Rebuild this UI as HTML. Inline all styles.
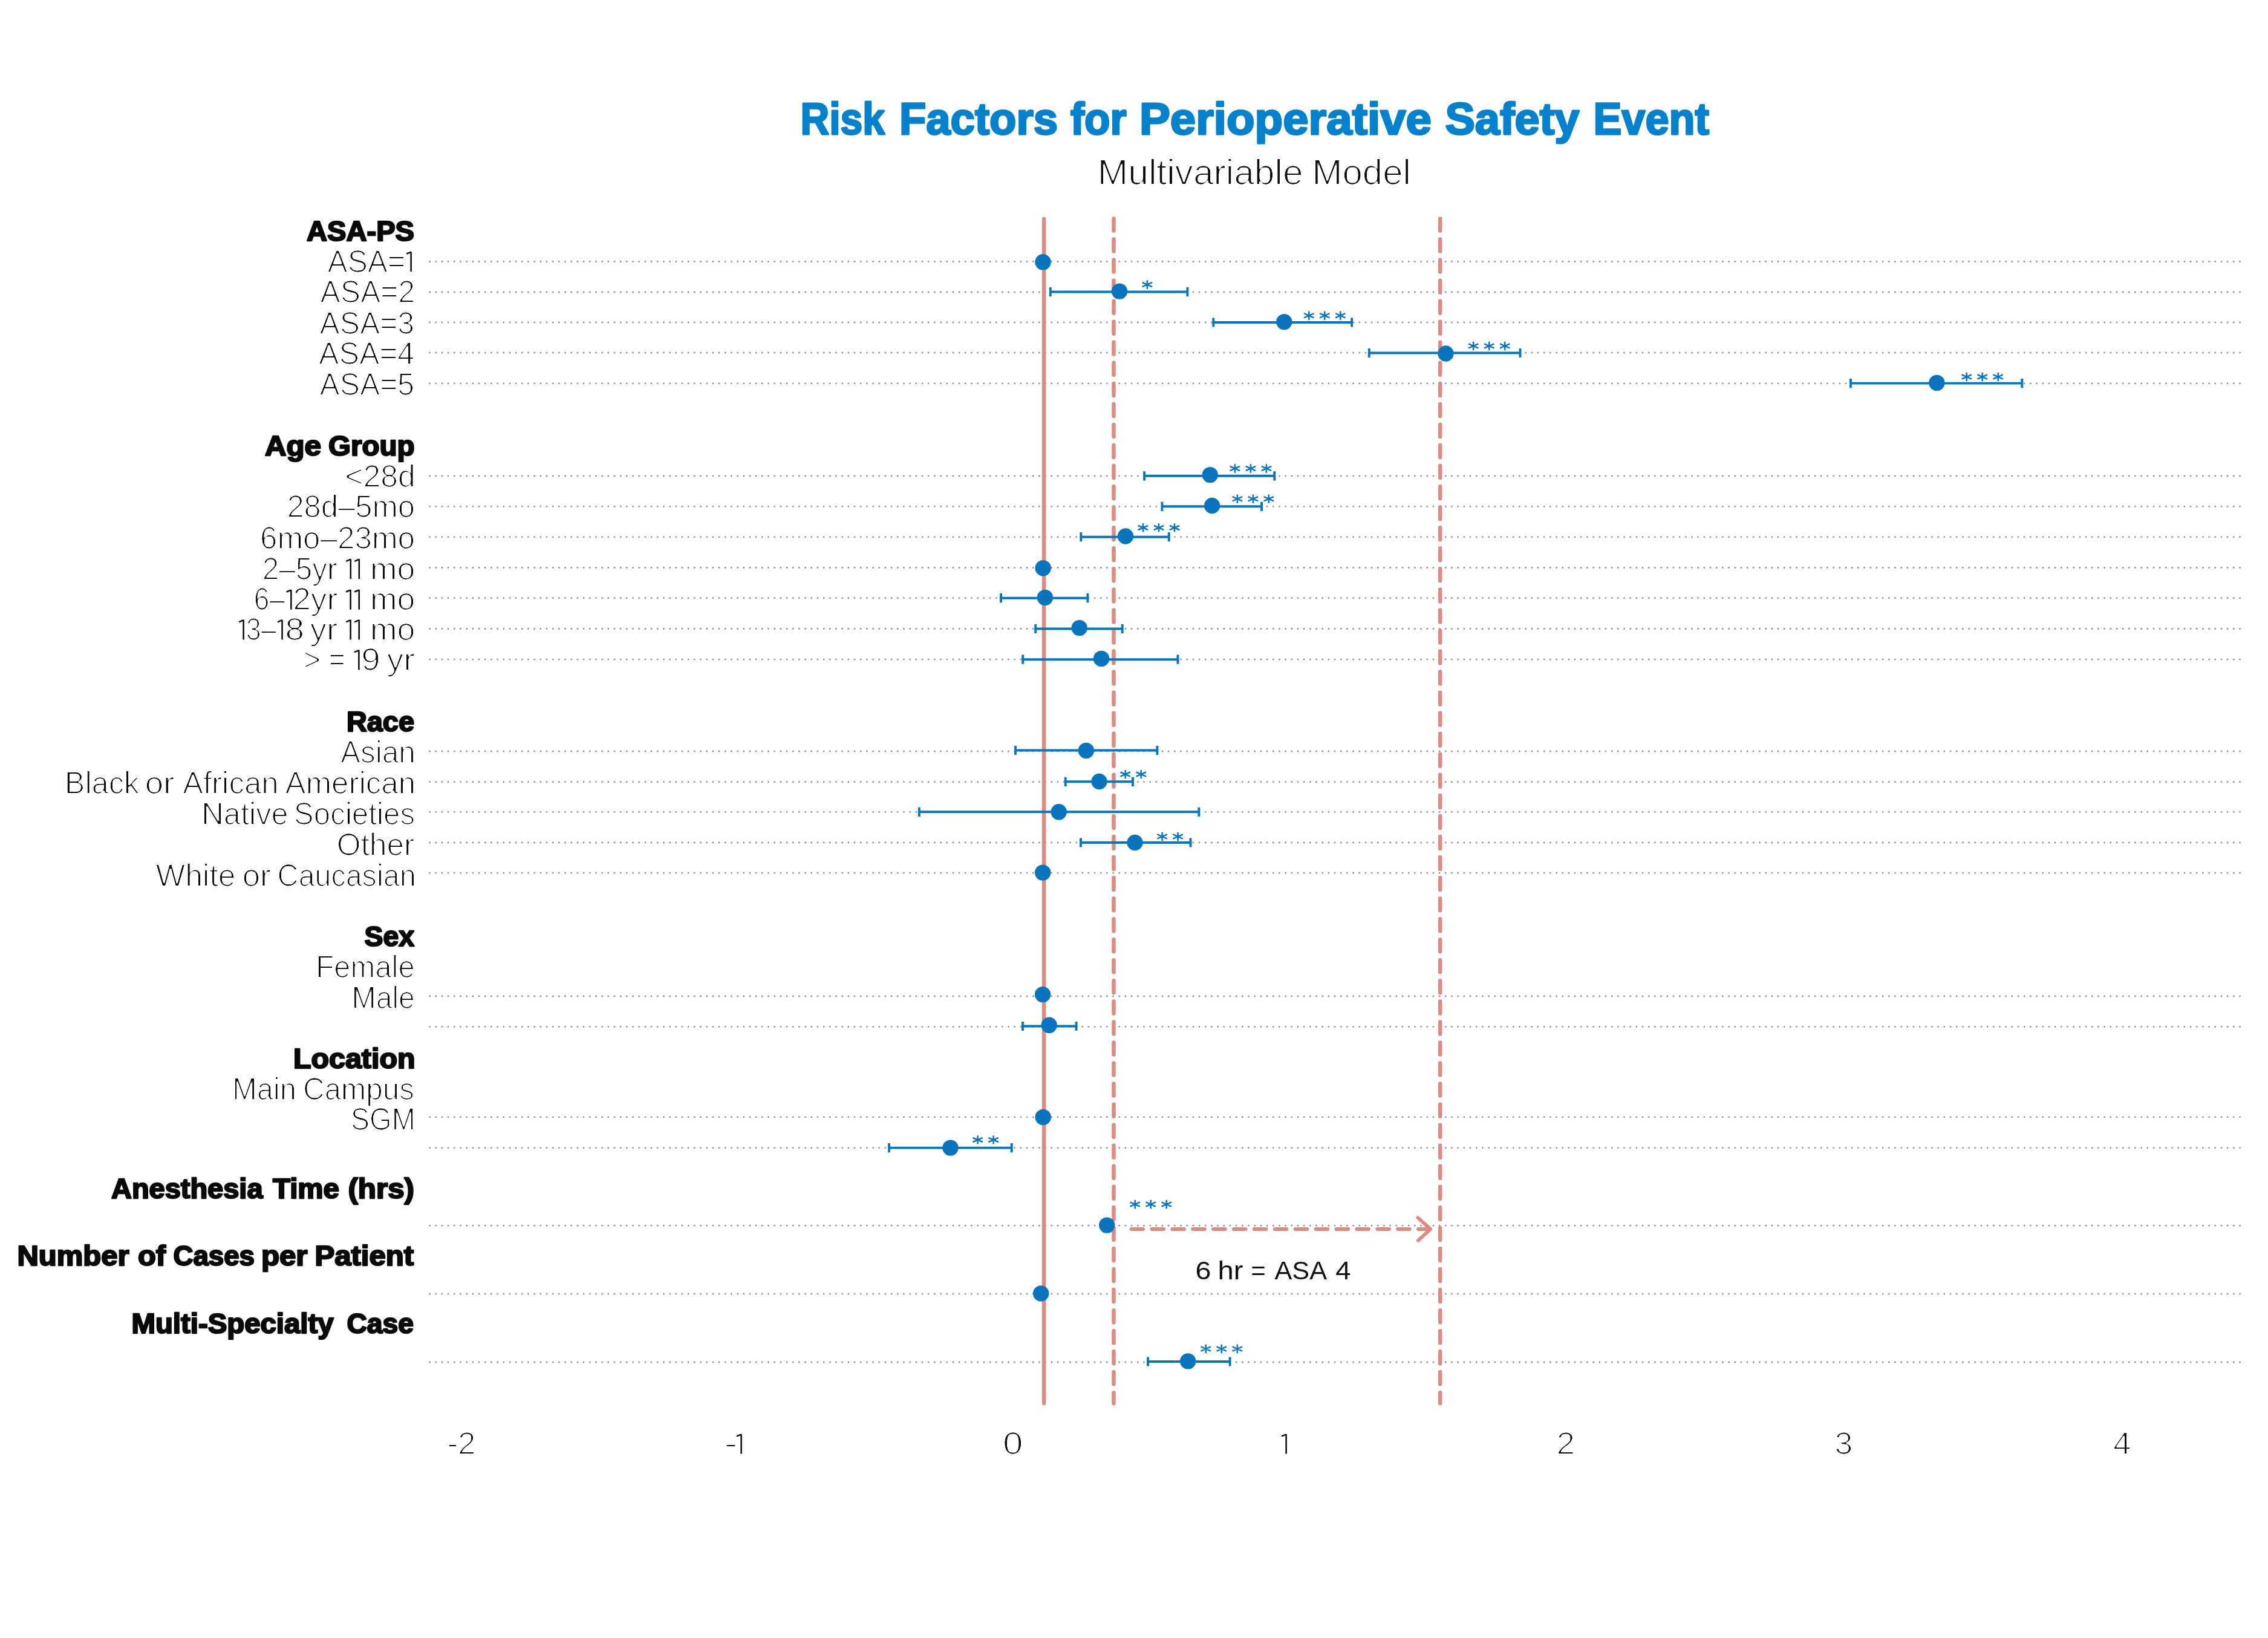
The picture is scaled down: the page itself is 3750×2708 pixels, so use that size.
<!DOCTYPE html><html><head><meta charset="utf-8"><title>Risk Factors for Perioperative Safety Event</title><style>html,body{margin:0;padding:0;background:#fff;overflow:hidden;}svg{display:block;}</style></head><body>
<svg width="3750" height="2708" viewBox="0 0 3750 2708">
<defs><filter id="er" x="-5%" y="-20%" width="110%" height="140%"><feMorphology operator="erode" radius="1"/><feComponentTransfer><feFuncA type="linear" slope="1.6" intercept="0"/></feComponentTransfer></filter><filter id="gs" x="-2%" y="-20%" width="104%" height="140%"><feOffset dx="0" dy="0"/></filter></defs>
<rect width="3750" height="2708" fill="#fff"/>
<g stroke="#8c8c8c" stroke-width="2.8" stroke-linecap="round" stroke-dasharray="0 10.18" fill="none">
<line x1="710.6" y1="432.4" x2="3704.2" y2="432.4"/>
<line x1="710.6" y1="483" x2="3704.2" y2="483"/>
<line x1="710.6" y1="532.9" x2="3704.2" y2="532.9"/>
<line x1="710.6" y1="583.2" x2="3704.2" y2="583.2"/>
<line x1="710.6" y1="633.8" x2="3704.2" y2="633.8"/>
<line x1="710.6" y1="786.8" x2="3704.2" y2="786.8"/>
<line x1="710.6" y1="837.3" x2="3704.2" y2="837.3"/>
<line x1="710.6" y1="887.8" x2="3704.2" y2="887.8"/>
<line x1="710.6" y1="938.5" x2="3704.2" y2="938.5"/>
<line x1="710.6" y1="988.7" x2="3704.2" y2="988.7"/>
<line x1="710.6" y1="1039.5" x2="3704.2" y2="1039.5"/>
<line x1="710.6" y1="1090.2" x2="3704.2" y2="1090.2"/>
<line x1="710.6" y1="1242" x2="3704.2" y2="1242"/>
<line x1="710.6" y1="1292.7" x2="3704.2" y2="1292.7"/>
<line x1="710.6" y1="1342.3" x2="3704.2" y2="1342.3"/>
<line x1="710.6" y1="1393" x2="3704.2" y2="1393"/>
<line x1="710.6" y1="1443.2" x2="3704.2" y2="1443.2"/>
<line x1="710.6" y1="1647" x2="3704.2" y2="1647"/>
<line x1="710.6" y1="1697.4" x2="3704.2" y2="1697.4"/>
<line x1="710.6" y1="1846.9" x2="3704.2" y2="1846.9"/>
<line x1="710.6" y1="1897.6" x2="3704.2" y2="1897.6"/>
<line x1="710.6" y1="2026.2" x2="3704.2" y2="2026.2"/>
<line x1="710.6" y1="2139.1" x2="3704.2" y2="2139.1"/>
<line x1="710.6" y1="2252" x2="3704.2" y2="2252"/>
</g>
<g stroke="#dc8b81" stroke-width="6.5" stroke-linecap="round" fill="none">
<line x1="1726.1" y1="362" x2="1726.1" y2="2320"/>
<line x1="1841.5" y1="361.5" x2="1841.5" y2="2320" stroke-dasharray="20 14.05"/>
<line x1="2381.2" y1="361.5" x2="2381.2" y2="2320" stroke-dasharray="20 14.05"/>
</g>
<g stroke="#dc8b81" stroke-width="5.8" stroke-linecap="round" stroke-linejoin="round" fill="none">
<line x1="1870.4" y1="2032" x2="2365" y2="2032" stroke-dasharray="19.8 14.1"/>
<polyline points="2344.3,2013.2 2365.2,2032 2344.8,2050.8"/>
</g>
<path d="M1736.80,482.50L1963.40,482.50M1736.80,474.90L1736.80,490.10M1963.40,474.90L1963.40,490.10M2006.30,533.00L2235.20,533.00M2006.30,525.40L2006.30,540.60M2235.20,525.40L2235.20,540.60M2263.80,583.50L2513.50,583.50M2263.80,575.90L2263.80,591.10M2513.50,575.90L2513.50,591.10M3059.90,633.60L3343.30,633.60M3059.90,626.00L3059.90,641.20M3343.30,626.00L3343.30,641.20M1892.10,786.80L2107.30,786.80M1892.10,779.20L1892.10,794.40M2107.30,779.20L2107.30,794.40M1921.40,837.30L2086.10,837.30M1921.40,829.70L1921.40,844.90M2086.10,829.70L2086.10,844.90M1787.30,887.70L1932.80,887.70M1787.30,880.10L1787.30,895.30M1932.80,880.10L1932.80,895.30M1655.00,988.70L1798.40,988.70M1655.00,981.10L1655.00,996.30M1798.40,981.10L1798.40,996.30M1712.20,1039.50L1855.70,1039.50M1712.20,1031.90L1712.20,1047.10M1855.70,1031.90L1855.70,1047.10M1691.20,1090.20L1947.50,1090.20M1691.20,1082.60L1691.20,1097.80M1947.50,1082.60L1947.50,1097.80M1679.00,1240.50L1913.40,1240.50M1679.00,1232.90L1679.00,1248.10M1913.40,1232.90L1913.40,1248.10M1761.70,1292.30L1873.00,1292.30M1761.70,1284.70L1761.70,1299.90M1873.00,1284.70L1873.00,1299.90M1519.80,1342.30L1982.40,1342.30M1519.80,1334.70L1519.80,1349.90M1982.40,1334.70L1982.40,1349.90M1787.00,1393.00L1968.50,1393.00M1787.00,1385.40L1787.00,1400.60M1968.50,1385.40L1968.50,1400.60M1691.00,1696.50L1779.60,1696.50M1691.00,1688.90L1691.00,1704.10M1779.60,1688.90L1779.60,1704.10M1470.10,1897.60L1672.70,1897.60M1470.10,1890.00L1470.10,1905.20M1672.70,1890.00L1672.70,1905.20M1898.00,2251.00L2033.60,2251.00M1898.00,2243.40L1898.00,2258.60M2033.60,2243.40L2033.60,2258.60" stroke="#0874bc" stroke-width="3.9" fill="none"/>
<path d="M1896.80,463.30L1896.80,477.70M1888.60,466.90L1905.00,474.10M1888.60,474.10L1905.00,466.90M2164.30,514.60L2164.30,529.00M2156.10,518.20L2172.50,525.40M2156.10,525.40L2172.50,518.20M2190.30,514.60L2190.30,529.00M2182.10,518.20L2198.50,525.40M2182.10,525.40L2198.50,518.20M2216.30,514.60L2216.30,529.00M2208.10,518.20L2224.50,525.40M2208.10,525.40L2224.50,518.20M2436.20,564.80L2436.20,579.20M2428.00,568.40L2444.40,575.60M2428.00,575.60L2444.40,568.40M2462.20,564.80L2462.20,579.20M2454.00,568.40L2470.40,575.60M2454.00,575.60L2470.40,568.40M2488.20,564.80L2488.20,579.20M2480.00,568.40L2496.40,575.60M2480.00,575.60L2496.40,568.40M3251.70,615.80L3251.70,630.20M3243.50,619.40L3259.90,626.60M3243.50,626.60L3259.90,619.40M3277.70,615.80L3277.70,630.20M3269.50,619.40L3285.90,626.60M3269.50,626.60L3285.90,619.40M3303.70,615.80L3303.70,630.20M3295.50,619.40L3311.90,626.60M3295.50,626.60L3311.90,619.40M2041.90,767.30L2041.90,781.70M2033.70,770.90L2050.10,778.10M2033.70,778.10L2050.10,770.90M2067.90,767.30L2067.90,781.70M2059.70,770.90L2076.10,778.10M2059.70,778.10L2076.10,770.90M2093.90,767.30L2093.90,781.70M2085.70,770.90L2102.10,778.10M2085.70,778.10L2102.10,770.90M2045.90,817.50L2045.90,831.90M2037.70,821.10L2054.10,828.30M2037.70,828.30L2054.10,821.10M2071.90,817.50L2071.90,831.90M2063.70,821.10L2080.10,828.30M2063.70,828.30L2080.10,821.10M2097.90,817.50L2097.90,831.90M2089.70,821.10L2106.10,828.30M2089.70,828.30L2106.10,821.10M1890.00,865.20L1890.00,879.60M1881.80,868.80L1898.20,876.00M1881.80,876.00L1898.20,868.80M1916.00,865.20L1916.00,879.60M1907.80,868.80L1924.20,876.00M1907.80,876.00L1924.20,868.80M1942.00,865.20L1942.00,879.60M1933.80,868.80L1950.20,876.00M1933.80,876.00L1950.20,868.80M1860.70,1272.90L1860.70,1287.30M1852.50,1276.50L1868.90,1283.70M1852.50,1283.70L1868.90,1276.50M1886.70,1272.90L1886.70,1287.30M1878.50,1276.50L1894.90,1283.70M1878.50,1283.70L1894.90,1276.50M1921.60,1375.80L1921.60,1390.20M1913.40,1379.40L1929.80,1386.60M1913.40,1386.60L1929.80,1379.40M1947.60,1375.80L1947.60,1390.20M1939.40,1379.40L1955.80,1386.60M1939.40,1386.60L1955.80,1379.40M1616.60,1877.20L1616.60,1891.60M1608.40,1880.80L1624.80,1888.00M1608.40,1888.00L1624.80,1880.80M1642.60,1877.20L1642.60,1891.60M1634.40,1880.80L1650.80,1888.00M1634.40,1888.00L1650.80,1880.80M1876.70,1983.80L1876.70,1998.20M1868.50,1987.40L1884.90,1994.60M1868.50,1994.60L1884.90,1987.40M1902.70,1983.80L1902.70,1998.20M1894.50,1987.40L1910.90,1994.60M1894.50,1994.60L1910.90,1987.40M1928.70,1983.80L1928.70,1998.20M1920.50,1987.40L1936.90,1994.60M1920.50,1994.60L1936.90,1987.40M1993.80,2222.80L1993.80,2237.20M1985.60,2226.40L2002.00,2233.60M1985.60,2233.60L2002.00,2226.40M2019.80,2222.80L2019.80,2237.20M2011.60,2226.40L2028.00,2233.60M2011.60,2233.60L2028.00,2226.40M2045.80,2222.80L2045.80,2237.20M2037.60,2226.40L2054.00,2233.60M2037.60,2233.60L2054.00,2226.40" stroke="#0874bc" stroke-width="2.5" fill="none"/>
<g fill="#0874bc">
<circle cx="1724.5" cy="433.3" r="13.2"/>
<circle cx="1851" cy="481.6" r="13.2"/>
<circle cx="2123.3" cy="532.1" r="13.2"/>
<circle cx="2390.5" cy="584.5" r="13.2"/>
<circle cx="3202.4" cy="632.9" r="13.2"/>
<circle cx="2000.8" cy="785.1" r="13.2"/>
<circle cx="2004.1" cy="836" r="13.2"/>
<circle cx="1861" cy="886.5" r="13.2"/>
<circle cx="1724.7" cy="939.2" r="13.2"/>
<circle cx="1727.9" cy="987.9" r="13.2"/>
<circle cx="1784.7" cy="1038.1" r="13.2"/>
<circle cx="1821" cy="1088.9" r="13.2"/>
<circle cx="1795.9" cy="1240.9" r="13.2"/>
<circle cx="1817.5" cy="1292" r="13.2"/>
<circle cx="1750.7" cy="1342.3" r="13.2"/>
<circle cx="1876.5" cy="1393" r="13.2"/>
<circle cx="1724.2" cy="1442.6" r="13.2"/>
<circle cx="1724.1" cy="1644.1" r="13.2"/>
<circle cx="1734.7" cy="1694.8" r="13.2"/>
<circle cx="1724.7" cy="1846.9" r="13.2"/>
<circle cx="1571.5" cy="1897.6" r="13.2"/>
<circle cx="1830.2" cy="2025.6" r="13.2"/>
<circle cx="1721.2" cy="2138.4" r="13.2"/>
<circle cx="1964.2" cy="2250.4" r="13.2"/>
</g>
<g font-family='"Liberation Sans", sans-serif'>
<g filter="url(#er)">
<text x="541.43" y="449.6" font-size="51.2" font-weight="normal" fill="#0a0a0a" textLength="128.69" lengthAdjust="spacingAndGlyphs">ASA=</text>
<text x="529.44" y="500.4" font-size="51.2" font-weight="normal" fill="#0a0a0a" textLength="156.66" lengthAdjust="spacingAndGlyphs">ASA=2</text>
<text x="528.45" y="551.5" font-size="51.2" font-weight="normal" fill="#0a0a0a" textLength="156.65" lengthAdjust="spacingAndGlyphs">ASA=3</text>
<text x="526.96" y="602.4" font-size="51.2" font-weight="normal" fill="#0a0a0a" textLength="158.11" lengthAdjust="spacingAndGlyphs">ASA=4</text>
<text x="528.45" y="653.0" font-size="51.2" font-weight="normal" fill="#0a0a0a" textLength="156.65" lengthAdjust="spacingAndGlyphs">ASA=5</text>
<text x="570.25" y="804.9" font-size="51.2" font-weight="normal" fill="#0a0a0a" textLength="116.56" lengthAdjust="spacingAndGlyphs">&lt;28d</text>
<text x="474.40" y="855.3" font-size="51.2" font-weight="normal" fill="#0a0a0a" textLength="211.70" lengthAdjust="spacingAndGlyphs">28d–5mo</text>
<text x="429.91" y="906.5" font-size="51.2" font-weight="normal" fill="#0a0a0a" textLength="256.18" lengthAdjust="spacingAndGlyphs">6mo–23mo</text>
<text x="433.84" y="957.7" font-size="51.2" font-weight="normal" fill="#0a0a0a" textLength="123.76" lengthAdjust="spacingAndGlyphs">2–5yr</text>
<text x="611.98" y="957.7" font-size="51.2" font-weight="normal" fill="#0a0a0a" textLength="74.42" lengthAdjust="spacingAndGlyphs">mo</text>
<text x="419.74" y="1008.4" font-size="51.2" font-weight="normal" fill="#0a0a0a" textLength="51.39" lengthAdjust="spacingAndGlyphs">6–</text>
<text x="484.25" y="1008.4" font-size="51.2" font-weight="normal" fill="#0a0a0a" textLength="73.87" lengthAdjust="spacingAndGlyphs">2yr</text>
<text x="611.98" y="1008.4" font-size="51.2" font-weight="normal" fill="#0a0a0a" textLength="74.42" lengthAdjust="spacingAndGlyphs">mo</text>
<text x="406.73" y="1058.2" font-size="51.2" font-weight="normal" fill="#0a0a0a" textLength="49.88" lengthAdjust="spacingAndGlyphs">3–</text>
<text x="471.55" y="1058.2" font-size="51.2" font-weight="normal" fill="#0a0a0a" textLength="31.65" lengthAdjust="spacingAndGlyphs">8</text>
<text x="512.81" y="1058.2" font-size="51.2" font-weight="normal" fill="#0a0a0a" textLength="45.33" lengthAdjust="spacingAndGlyphs">yr</text>
<text x="611.98" y="1058.2" font-size="51.2" font-weight="normal" fill="#0a0a0a" textLength="74.42" lengthAdjust="spacingAndGlyphs">mo</text>
<text x="502.13" y="1108.1" font-size="51.2" font-weight="normal" fill="#0a0a0a" textLength="27.64" lengthAdjust="spacingAndGlyphs">&gt;</text>
<text x="543.80" y="1108.1" font-size="51.2" font-weight="normal" fill="#0a0a0a" textLength="26.96" lengthAdjust="spacingAndGlyphs">=</text>
<text x="597.16" y="1108.1" font-size="51.2" font-weight="normal" fill="#0a0a0a" textLength="31.61" lengthAdjust="spacingAndGlyphs">9</text>
<text x="639.84" y="1108.1" font-size="51.2" font-weight="normal" fill="#0a0a0a" textLength="45.78" lengthAdjust="spacingAndGlyphs">yr</text>
<text x="562.89" y="1261.4" font-size="51.2" font-weight="normal" fill="#0a0a0a" textLength="123.81" lengthAdjust="spacingAndGlyphs">Asian</text>
<text x="106.71" y="1312.0" font-size="51.2" font-weight="normal" fill="#0a0a0a" textLength="123.45" lengthAdjust="spacingAndGlyphs">Black</text>
<text x="239.66" y="1312.0" font-size="51.2" font-weight="normal" fill="#0a0a0a" textLength="48.52" lengthAdjust="spacingAndGlyphs">or</text>
<text x="301.95" y="1312.0" font-size="51.2" font-weight="normal" fill="#0a0a0a" textLength="158.69" lengthAdjust="spacingAndGlyphs">African</text>
<text x="471.43" y="1312.0" font-size="51.2" font-weight="normal" fill="#0a0a0a" textLength="215.69" lengthAdjust="spacingAndGlyphs">American</text>
<text x="333.22" y="1362.6" font-size="51.2" font-weight="normal" fill="#0a0a0a" textLength="143.44" lengthAdjust="spacingAndGlyphs">Native</text>
<text x="485.85" y="1362.6" font-size="51.2" font-weight="normal" fill="#0a0a0a" textLength="200.27" lengthAdjust="spacingAndGlyphs">Societies</text>
<text x="556.87" y="1413.7" font-size="51.2" font-weight="normal" fill="#0a0a0a" textLength="128.22" lengthAdjust="spacingAndGlyphs">Other</text>
<text x="257.43" y="1464.5" font-size="51.2" font-weight="normal" fill="#0a0a0a" textLength="132.17" lengthAdjust="spacingAndGlyphs">White</text>
<text x="400.74" y="1464.5" font-size="51.2" font-weight="normal" fill="#0a0a0a" textLength="46.89" lengthAdjust="spacingAndGlyphs">or</text>
<text x="458.39" y="1464.5" font-size="51.2" font-weight="normal" fill="#0a0a0a" textLength="229.26" lengthAdjust="spacingAndGlyphs">Caucasian</text>
<text x="522.25" y="1615.5" font-size="51.2" font-weight="normal" fill="#0a0a0a" textLength="163.39" lengthAdjust="spacingAndGlyphs">Female</text>
<text x="581.61" y="1666.7" font-size="51.2" font-weight="normal" fill="#0a0a0a" textLength="104.19" lengthAdjust="spacingAndGlyphs">Male</text>
<text x="384.02" y="1818.2" font-size="51.2" font-weight="normal" fill="#0a0a0a" textLength="105.83" lengthAdjust="spacingAndGlyphs">Main</text>
<text x="500.90" y="1818.2" font-size="51.2" font-weight="normal" fill="#0a0a0a" textLength="184.18" lengthAdjust="spacingAndGlyphs">Campus</text>
<text x="579.69" y="1868.2" font-size="51.2" font-weight="normal" fill="#0a0a0a" textLength="107.17" lengthAdjust="spacingAndGlyphs">SGM</text>
<text x="1814.84" y="305.0" font-size="59.6" font-weight="normal" fill="#111" textLength="339.77" lengthAdjust="spacingAndGlyphs">Multivariable</text>
<text x="2169.61" y="305.0" font-size="59.6" font-weight="normal" fill="#111" textLength="163.17" lengthAdjust="spacingAndGlyphs">Model</text>
<text x="739.43" y="2404.3" font-size="51.9" font-weight="normal" fill="#111" textLength="47.09" lengthAdjust="spacingAndGlyphs">-2</text>
<text x="1198.04" y="2404.3" font-size="51.9" font-weight="normal" fill="#111" textLength="20.98" lengthAdjust="spacingAndGlyphs">-</text>
<text x="1658.25" y="2404.3" font-size="51.9" font-weight="normal" fill="#111" textLength="33.02" lengthAdjust="spacingAndGlyphs">0</text>
<text x="2573.57" y="2404.3" font-size="51.9" font-weight="normal" fill="#111" textLength="30.48" lengthAdjust="spacingAndGlyphs">2</text>
<text x="3033.50" y="2404.3" font-size="51.9" font-weight="normal" fill="#111" textLength="29.80" lengthAdjust="spacingAndGlyphs">3</text>
<text x="3494.10" y="2404.3" font-size="51.9" font-weight="normal" fill="#111" textLength="29.29" lengthAdjust="spacingAndGlyphs">4</text>
</g>
<g filter="url(#gs)">
<text x="507.00" y="398" font-size="46" font-weight="bold" fill="#0a0a0a" stroke="#0a0a0a" stroke-width="2.4" stroke-linejoin="round" textLength="178.01" lengthAdjust="spacingAndGlyphs">ASA-PS</text>
<text x="438.00" y="753" font-size="46" font-weight="bold" fill="#0a0a0a" stroke="#0a0a0a" stroke-width="2.4" stroke-linejoin="round" textLength="93.01" lengthAdjust="spacingAndGlyphs">Age</text>
<text x="542.98" y="753" font-size="46" font-weight="bold" fill="#0a0a0a" stroke="#0a0a0a" stroke-width="2.4" stroke-linejoin="round" textLength="142.53" lengthAdjust="spacingAndGlyphs">Group</text>
<text x="572.94" y="1208.8" font-size="46" font-weight="bold" fill="#0a0a0a" stroke="#0a0a0a" stroke-width="2.4" stroke-linejoin="round" textLength="112.06" lengthAdjust="spacingAndGlyphs">Race</text>
<text x="602.50" y="1564" font-size="46" font-weight="bold" fill="#0a0a0a" stroke="#0a0a0a" stroke-width="2.4" stroke-linejoin="round" textLength="82.52" lengthAdjust="spacingAndGlyphs">Sex</text>
<text x="484.95" y="1766.2" font-size="46" font-weight="bold" fill="#0a0a0a" stroke="#0a0a0a" stroke-width="2.4" stroke-linejoin="round" textLength="201.58" lengthAdjust="spacingAndGlyphs">Location</text>
<text x="184.00" y="1980.9" font-size="46" font-weight="bold" fill="#0a0a0a" stroke="#0a0a0a" stroke-width="2.4" stroke-linejoin="round" textLength="250.51" lengthAdjust="spacingAndGlyphs">Anesthesia</text>
<text x="451.00" y="1980.9" font-size="46" font-weight="bold" fill="#0a0a0a" stroke="#0a0a0a" stroke-width="2.4" stroke-linejoin="round" textLength="110.00" lengthAdjust="spacingAndGlyphs">Time</text>
<text x="575.46" y="1980.9" font-size="46" font-weight="bold" fill="#0a0a0a" stroke="#0a0a0a" stroke-width="2.4" stroke-linejoin="round" textLength="109.58" lengthAdjust="spacingAndGlyphs">(hrs)</text>
<text x="28.48" y="2092" font-size="46" font-weight="bold" fill="#0a0a0a" stroke="#0a0a0a" stroke-width="2.4" stroke-linejoin="round" textLength="185.01" lengthAdjust="spacingAndGlyphs">Number</text>
<text x="228.00" y="2092" font-size="46" font-weight="bold" fill="#0a0a0a" stroke="#0a0a0a" stroke-width="2.4" stroke-linejoin="round" textLength="46.05" lengthAdjust="spacingAndGlyphs">of</text>
<text x="286.48" y="2092" font-size="46" font-weight="bold" fill="#0a0a0a" stroke="#0a0a0a" stroke-width="2.4" stroke-linejoin="round" textLength="134.55" lengthAdjust="spacingAndGlyphs">Cases</text>
<text x="431.96" y="2092" font-size="46" font-weight="bold" fill="#0a0a0a" stroke="#0a0a0a" stroke-width="2.4" stroke-linejoin="round" textLength="76.54" lengthAdjust="spacingAndGlyphs">per</text>
<text x="520.47" y="2092" font-size="46" font-weight="bold" fill="#0a0a0a" stroke="#0a0a0a" stroke-width="2.4" stroke-linejoin="round" textLength="163.53" lengthAdjust="spacingAndGlyphs">Patient</text>
<text x="217.50" y="2204" font-size="46" font-weight="bold" fill="#0a0a0a" stroke="#0a0a0a" stroke-width="2.4" stroke-linejoin="round" textLength="334.00" lengthAdjust="spacingAndGlyphs">Multi-Specialty</text>
<text x="573.48" y="2204" font-size="46" font-weight="bold" fill="#0a0a0a" stroke="#0a0a0a" stroke-width="2.4" stroke-linejoin="round" textLength="110.54" lengthAdjust="spacingAndGlyphs">Case</text>
<text x="1323.47" y="221.8" font-size="74.9" font-weight="bold" fill="#0581cc" stroke="#0581cc" stroke-width="3" stroke-linejoin="round" textLength="139.51" lengthAdjust="spacingAndGlyphs">Risk</text>
<text x="1486.95" y="221.8" font-size="74.9" font-weight="bold" fill="#0581cc" stroke="#0581cc" stroke-width="3" stroke-linejoin="round" textLength="262.08" lengthAdjust="spacingAndGlyphs">Factors</text>
<text x="1769.99" y="221.8" font-size="74.9" font-weight="bold" fill="#0581cc" stroke="#0581cc" stroke-width="3" stroke-linejoin="round" textLength="92.52" lengthAdjust="spacingAndGlyphs">for</text>
<text x="1883.97" y="221.8" font-size="74.9" font-weight="bold" fill="#0581cc" stroke="#0581cc" stroke-width="3" stroke-linejoin="round" textLength="483.03" lengthAdjust="spacingAndGlyphs">Perioperative</text>
<text x="2389.50" y="221.8" font-size="74.9" font-weight="bold" fill="#0581cc" stroke="#0581cc" stroke-width="3" stroke-linejoin="round" textLength="222.01" lengthAdjust="spacingAndGlyphs">Safety</text>
<text x="2634.46" y="221.8" font-size="74.9" font-weight="bold" fill="#0581cc" stroke="#0581cc" stroke-width="3" stroke-linejoin="round" textLength="191.53" lengthAdjust="spacingAndGlyphs">Event</text>
<text x="1976.45" y="2114.9" font-size="42" font-weight="normal" fill="#111" textLength="25.96" lengthAdjust="spacingAndGlyphs">6</text>
<text x="2013.50" y="2114.9" font-size="42" font-weight="normal" fill="#111" textLength="42.08" lengthAdjust="spacingAndGlyphs">hr</text>
<text x="2068.47" y="2114.9" font-size="42" font-weight="normal" fill="#111" textLength="24.07" lengthAdjust="spacingAndGlyphs">=</text>
<text x="2107.50" y="2114.9" font-size="42" font-weight="normal" fill="#111" textLength="86.51" lengthAdjust="spacingAndGlyphs">ASA</text>
<text x="2208.37" y="2114.9" font-size="42" font-weight="normal" fill="#111" textLength="25.27" lengthAdjust="spacingAndGlyphs">4</text>
</g>
</g>
<path d="M672.10,419.70L679.60,416.60M679.60,416.20L679.60,448.90M572.30,927.80L579.80,924.70M579.80,924.30L579.80,957.00M586.30,927.80L593.80,924.70M593.80,924.30L593.80,957.00M473.80,978.50L481.30,975.40M481.30,975.00L481.30,1007.70M572.10,978.50L579.60,975.40M579.60,975.00L579.60,1007.70M586.20,978.50L593.70,975.40M593.70,975.00L593.70,1007.70M395.10,1028.30L402.60,1025.20M402.60,1024.80L402.60,1057.50M459.00,1028.30L466.50,1025.20M466.50,1024.80L466.50,1057.50M572.10,1028.30L579.60,1025.20M579.60,1024.80L579.60,1057.50M586.20,1028.30L593.70,1025.20M593.70,1024.80L593.70,1057.50M585.90,1078.20L593.40,1075.10M593.40,1074.70L593.40,1107.40M1218.10,2374.40L1225.60,2371.30M1225.60,2370.90L1225.60,2403.60M2119.10,2374.40L2126.60,2371.30M2126.60,2370.90L2126.60,2403.60" stroke="#0a0a0a" stroke-width="2.5" fill="none"/>
</svg></body></html>
